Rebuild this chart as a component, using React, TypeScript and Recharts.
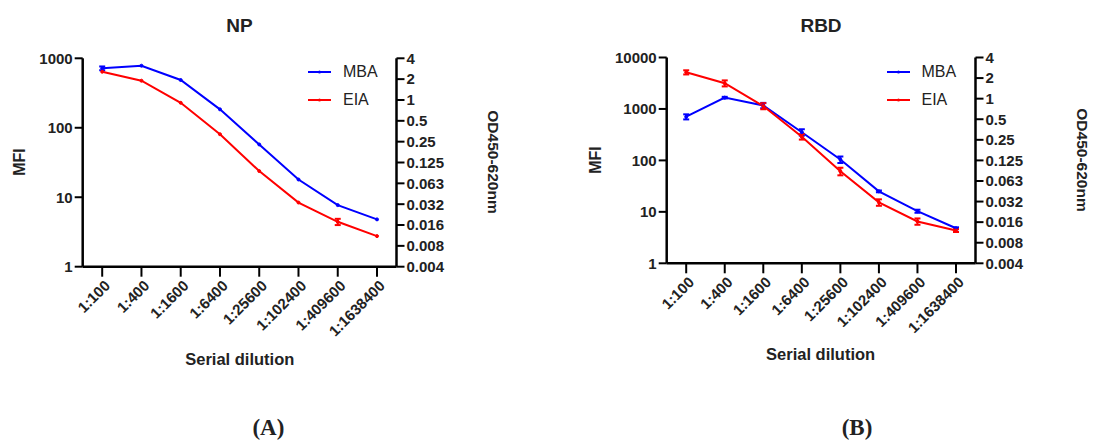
import React from 'react';
import { LineChart, Line, XAxis, YAxis, ErrorBar, Legend } from 'recharts';

const DILUTIONS = ['1:100', '1:400', '1:1600', '1:6400', '1:25600', '1:102400', '1:409600', '1:1638400'];

// NP panel
const NP_MBA = [718, 782, 487, 184, 57.5, 18, 7.7, 4.8];
const NP_MBA_ERR = [45, null, null, null, null, null, null, null];
const NP_EIA = [2.56, 1.9, 0.91, 0.32, 0.094, 0.033, 0.0174, 0.0108];
const NP_EIA_ERR = [null, null, null, null, null, null, 0.0018, null];

// RBD panel
const RBD_MBA = [706, 1660, 1172, 353, 104, 25, 10.3, 4.8];
const RBD_MBA_ERR = [80, 60, 140, 50, 15, 1, 0.7, 0.2];
const RBD_EIA = [2.43, 1.68, 0.78, 0.277, 0.0866, 0.0304, 0.016, 0.0118];
const RBD_EIA_ERR = [0.17, 0.17, 0.08, 0.025, 0.011, 0.0033, 0.0017, 0.0006];

const MFI_TICKS_NP = [1, 10, 100, 1000];
const MFI_TICKS_RBD = [1, 10, 100, 1000, 10000];
const OD_TICKS = [4, 2, 1, 0.5, 0.25, 0.125, 0.0625, 0.03125, 0.015625, 0.0078125, 0.00390625];
const OD_TICK_LABELS = ['4', '2', '1', '0.5', '0.25', '0.125', '0.063', '0.032', '0.016', '0.008', '0.004'];
const SERIES_ORDER = ['MBA', 'EIA'];

const BLUE = '#0000ff';
const RED = '#ff0000';
const FONT = '"Liberation Sans", Arial, sans-serif';

const buildData = (mba: number[], mbaErr: (number | null)[], eia: number[], eiaErr: (number | null)[]) =>
  DILUTIONS.map((d, i) => ({ dilution: d, mba: mba[i], mbaErr: mbaErr[i], eia: eia[i], eiaErr: eiaErr[i] }));

const DilutionTick = (props: any) => {
  const { x, y, payload } = props;
  return (
    <text
      x={x + 5}
      y={y + 4}
      transform={`rotate(-45, ${x + 5}, ${y + 4})`}
      textAnchor="end"
      dominantBaseline="central"
      fontFamily={FONT}
      fontWeight="bold"
      fontSize={15}
      fill="#222"
    >
      {payload.value}
    </text>
  );
};

const LegendBox = (props: any) => {
  const items = [...(props.payload || [])].sort(
    (a: any, b: any) => SERIES_ORDER.indexOf(a.value) - SERIES_ORDER.indexOf(b.value),
  );
  return (
    <div style={{ fontFamily: FONT, fontSize: 16, color: '#222' }}>
      {items.map((p: any) => (
        <div key={p.value} style={{ height: 28, display: 'flex', alignItems: 'center' }}>
          <svg width={23} height={6} style={{ marginRight: 12 }}>
            <line x1={0} y1={3} x2={23} y2={3} stroke={p.color} strokeWidth={2} />
            <circle cx={11.5} cy={3} r={1.5} fill={p.color} />
          </svg>
          <span>{p.value}</span>
        </div>
      ))}
    </div>
  );
};

interface PanelProps {
  left: number;
  plotLeft: number;
  plotRight: number;
  plotTop: number;
  plotBottom: number;
  mfiDomain: [number, number];
  mfiTicks: number[];
  data: any[];
  legendLeft: number;
}

const W = 547;
const H = 441;

const Panel = ({ left, plotLeft, plotRight, plotTop, plotBottom, mfiDomain, mfiTicks, data, legendLeft }: PanelProps) => {
  const yW = 60;
  const xH = 80;
  const axisStyle = { stroke: '#000', strokeWidth: 2.5 };
  const tickLineStyle = { stroke: '#000', strokeWidth: 2 };
  const tickStyle = { fill: '#222', fontSize: 15, fontWeight: 'bold' as const, fontFamily: FONT };
  return (
    <div style={{ position: 'absolute', left, top: 0 }}>
      <LineChart
        width={W}
        height={H}
        data={data}
        margin={{ left: plotLeft - yW, right: W - plotRight - yW, top: plotTop, bottom: H - plotBottom - xH }}
      >
        <XAxis
          dataKey="dilution"
          interval={0}
          padding={{ left: 19.5, right: 19.5 }}
          height={xH}
          tickSize={10}
          axisLine={axisStyle}
          tickLine={tickLineStyle}
          tick={(p: any) => <DilutionTick {...p} />}
        />
        <YAxis
          yAxisId="mfi"
          orientation="left"
          width={yW}
          scale="log"
          type="number"
          domain={mfiDomain}
          ticks={mfiTicks}
          allowDataOverflow
          interval={0}
          tickSize={8}
          axisLine={axisStyle}
          tickLine={tickLineStyle}
          tick={tickStyle}
        />
        <YAxis
          yAxisId="od"
          orientation="right"
          width={yW}
          scale="log"
          type="number"
          domain={[OD_TICKS[OD_TICKS.length - 1], OD_TICKS[0]]}
          ticks={OD_TICKS}
          allowDataOverflow
          interval={0}
          tickSize={8}
          axisLine={axisStyle}
          tickLine={tickLineStyle}
          tick={tickStyle}
          tickFormatter={(v: number) => OD_TICK_LABELS[OD_TICKS.indexOf(v)] ?? String(v)}
        />
        <Legend
          layout="horizontal"
          verticalAlign="middle"
          content={(p: any) => <LegendBox {...p} />}
          wrapperStyle={{ position: 'absolute', left: legendLeft, top: plotTop, width: 'auto', height: 'auto' }}
        />
        <Line
          yAxisId="mfi"
          name="MBA"
          dataKey="mba"
          type="linear"
          stroke={BLUE}
          strokeWidth={2}
          dot={{ r: 1.5, fill: BLUE, stroke: BLUE, strokeWidth: 1 }}
          isAnimationActive={false}
        >
          <ErrorBar dataKey="mbaErr" width={3} stroke={BLUE} strokeWidth={2} direction="y" isAnimationActive={false} />
        </Line>
        <Line
          yAxisId="od"
          name="EIA"
          dataKey="eia"
          type="linear"
          stroke={RED}
          strokeWidth={2}
          dot={{ r: 1.5, fill: RED, stroke: RED, strokeWidth: 1 }}
          isAnimationActive={false}
        >
          <ErrorBar dataKey="eiaErr" width={3} stroke={RED} strokeWidth={2} direction="y" isAnimationActive={false} />
        </Line>
      </LineChart>
    </div>
  );
};

const Txt = ({ x, y, children, size, rotate = 0, weight = 'bold', family = FONT }: any) => (
  <div
    style={{
      position: 'absolute',
      left: x,
      top: y,
      transform: `translate(-50%, -50%) rotate(${rotate}deg)`,
      fontFamily: family,
      fontSize: size,
      fontWeight: weight,
      whiteSpace: 'nowrap',
      color: '#222',
      lineHeight: 1,
    }}
  >
    {children}
  </div>
);

export default function App() {
  const npData = buildData(NP_MBA, NP_MBA_ERR, NP_EIA, NP_EIA_ERR);
  const rbdData = buildData(RBD_MBA, RBD_MBA_ERR, RBD_EIA, RBD_EIA_ERR);
  return (
    <div style={{ position: 'absolute', left: 0, top: 0, width: 1094, height: 441, background: '#fff', overflow: 'hidden' }}>
      <Panel
        left={0}
        plotLeft={82.7}
        plotRight={396.5}
        plotTop={58.3}
        plotBottom={266.7}
        mfiDomain={[1, 1000]}
        mfiTicks={MFI_TICKS_NP}
        data={npData}
        legendLeft={308}
      />
      <Panel
        left={547}
        plotLeft={119.7}
        plotRight={428.5}
        plotTop={57.5}
        plotBottom={263.3}
        mfiDomain={[1, 10000]}
        mfiTicks={MFI_TICKS_RBD}
        data={rbdData}
        legendLeft={339.5}
      />
      <Txt x={239.5} y={25} size={19}>NP</Txt>
      <Txt x={821} y={25} size={19}>RBD</Txt>
      <Txt x={19.5} y={161.7} size={16} rotate={-90}>MFI</Txt>
      <Txt x={596} y={160} size={16} rotate={-90}>MFI</Txt>
      <Txt x={493.3} y={161.7} size={15.5} rotate={90}>OD450-620nm</Txt>
      <Txt x={1082} y={160} size={15.5} rotate={90}>OD450-620nm</Txt>
      <Txt x={239.8} y={359.3} size={16.5}>Serial dilution</Txt>
      <Txt x={820.6} y={354} size={16.5}>Serial dilution</Txt>
      <Txt x={268.4} y={426.7} size={23} family='"Liberation Serif", "Times New Roman", serif'>(A)</Txt>
      <Txt x={857} y={426.7} size={23} family='"Liberation Serif", "Times New Roman", serif'>(B)</Txt>
    </div>
  );
}
